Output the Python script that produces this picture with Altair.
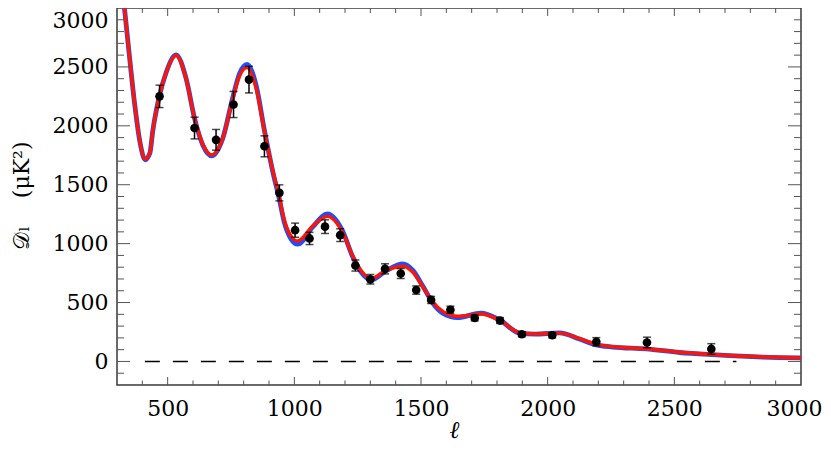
import altair as alt
import pandas as pd

# ---- observed band powers (multipole, D_l, 1-sigma error) ----
obs_ell = [468, 606, 691, 760, 821, 882, 941, 1003, 1060, 1121, 1181, 1241, 1300,
           1358, 1420, 1481, 1540, 1616, 1712, 1812, 1898, 2018, 2192, 2392, 2646]
obs_D = [2250, 1981, 1881, 2181, 2392, 1826, 1431, 1114, 1044, 1144, 1072, 814, 697,
         786, 746, 606, 522, 439, 369, 347, 231, 222, 167, 161, 106]
obs_err = [95, 92, 88, 111, 113, 89, 68, 60, 52, 58, 54, 47, 40,
           43, 42, 35, 30, 30, 25, 25, 22, 22, 35, 45, 45]

# ---- model curves ----
model_ell = [320, 329, 349, 370, 390, 411, 430, 441, 467, 494, 533, 573, 606, 639, 674,
             718, 757, 784, 813, 850, 882, 915, 940, 960, 987, 1013, 1072, 1131, 1191,
             1230, 1263, 1303, 1362, 1428, 1467, 1507, 1545, 1586, 1644, 1737, 1810,
             1889, 1950, 2047, 2126, 2192, 2257, 2389, 2521, 2580, 2718, 2850, 3000]
red_D = [3200, 3008, 2592, 2180, 1870, 1717, 1770, 1953, 2250, 2453, 2597, 2397, 2064, 1842, 1753,
         1897, 2231, 2425, 2494, 2314, 1950, 1619, 1400, 1203, 1064, 1022, 1147, 1231, 1092,
         897, 772, 703, 772, 808, 758, 633, 508, 425, 383, 403, 350,
         244, 234, 240, 194, 145, 125, 108, 78, 69, 50, 38, 30]
blue_D = [3200, 3008, 2592, 2180, 1870, 1712, 1770, 1953, 2250, 2453, 2602, 2400, 2064, 1835, 1745,
          1897, 2240, 2445, 2522, 2335, 1960, 1610, 1385, 1185, 1040, 995, 1140, 1253, 1105,
          890, 760, 692, 770, 828, 775, 640, 500, 410, 372, 410, 352,
          240, 232, 242, 190, 140, 122, 106, 76, 67, 49, 37, 30]

zero_line_ell = [410, 2745]

x_label_values = [500, 1000, 1500, 2000, 2500, 3000]
y_label_values = [0, 500, 1000, 1500, 2000, 2500, 3000]
x_major_ticks = [500, 1000, 1500, 2000, 2500]
x_minor_ticks = [v for v in range(400, 3000, 100) if v % 500 != 0]
y_major_ticks = [0, 500, 1000, 1500, 2000, 2500]
y_minor_ticks = [v for v in range(-100, 3000, 100) if v % 500 != 0]

W, H = 684, 377
FONT = "DejaVu Serif"

xs = alt.Scale(domain=[300, 3000], nice=False, zero=False)
ys = alt.Scale(domain=[-200, 3000], nice=False, zero=False)

obs = pd.DataFrame({"ell": obs_ell, "D": obs_D, "err": obs_err})
obs["lo"] = obs["D"] - obs["err"]
obs["hi"] = obs["D"] + obs["err"]
red = pd.DataFrame({"ell": model_ell, "D": red_D})
blue = pd.DataFrame({"ell": model_ell, "D": blue_D})
zero = pd.DataFrame({"ell": [zero_line_ell[0]], "ell2": [zero_line_ell[1]], "D": [0]})

NB = "\u00a0"
x_axis = alt.Axis(values=x_label_values, format="d", ticks=False, tickSize=0, domain=False,
                  grid=False, labelFont=FONT, labelFontSize=22, labelColor="black",
                  labelPadding=13, labelFlush=True, labelFlushOffset=21, labelOverlap=False,
                  title="ℓ", titleFont=FONT, titleFontStyle="italic", titleFontWeight="normal",
                  titleFontSize=24, titleColor="black", titleX=337, titleY=45,
                  titleBaseline="middle", titleAlign="center")
y_axis = alt.Axis(values=y_label_values, format="d", ticks=False, tickSize=0, domain=False,
                  grid=False, labelFont=FONT, labelFontSize=22, labelColor="black",
                  labelPadding=9, labelFlush=True, labelFlushOffset=-2, labelOverlap=False,
                  title="𝒟ₗ" + NB * 4 + "(μK²)", titleFont=FONT, titleFontWeight="normal",
                  titleFontSize=22, titleColor="black", titleAngle=270, titleX=-96, titleY=187,
                  titleBaseline="middle", titleAlign="center")


def X(field="ell"):
    return alt.X(f"{field}:Q", scale=xs, axis=x_axis)


def Y(field="D"):
    return alt.Y(f"{field}:Q", scale=ys, axis=y_axis)


zero_layer = alt.Chart(zero).mark_rule(color="black", strokeWidth=1.5, strokeDash=[15, 13]).encode(
    x=X(), x2="ell2:Q", y=Y())

blue_layer = alt.Chart(blue).mark_line(color="#1f4cff", strokeWidth=4.8, interpolate="monotone",
                                       clip=True).encode(x=X(), y=Y())

red_layer = alt.Chart(red).mark_line(color="#ff1500", strokeWidth=3.4, interpolate="monotone",
                                     clip=True).encode(x=X(), y=Y())

err_layer = alt.Chart(obs).transform_calculate(D="datum.lo").mark_rule(
    color="black", strokeWidth=1.5).encode(x=X(), y=Y(), y2="hi:Q")
cap_lo = alt.Chart(obs).transform_calculate(D="datum.lo").mark_tick(
    color="black", thickness=1.5, size=8, orient="horizontal").encode(x=X(), y=Y())
cap_hi = alt.Chart(obs).transform_calculate(D="datum.hi").mark_tick(
    color="black", thickness=1.5, size=8, orient="horizontal").encode(x=X(), y=Y())
pts = alt.Chart(obs).mark_circle(color="black", opacity=1, size=75).encode(x=X(), y=Y())

TICK = "#555555"


def ytick(vals, x0, x1):
    return alt.Chart(pd.DataFrame({"D": vals})).mark_rule(color=TICK, strokeWidth=1).encode(
        y=Y(), x=alt.value(x0), x2=alt.value(x1))


def xtick(vals, y0, y1):
    return alt.Chart(pd.DataFrame({"ell": vals})).mark_rule(color=TICK, strokeWidth=1).encode(
        x=X(), y=alt.value(y0), y2=alt.value(y1))


ticks = [
    ytick(y_major_ticks, 0, 13), ytick(y_minor_ticks, 0, 7),
    ytick(y_major_ticks, W - 13, W), ytick(y_minor_ticks, W - 7, W),
    xtick(x_major_ticks, H, H - 8), xtick(x_minor_ticks, H, H - 4.5),
    xtick(x_major_ticks, 0, 8), xtick(x_minor_ticks, 0, 5),
]

chart = alt.layer(zero_layer, blue_layer, red_layer, err_layer, cap_lo, cap_hi, pts, *ticks).properties(
    width=W, height=H,
    autosize=alt.AutoSizeParams(type="none"),
    padding={"left": 109, "top": 0, "right": 22, "bottom": 60},
).configure_view(stroke="#3a3a3a", strokeWidth=1.5)

chart.save("out.html", embed_options={"renderer": "svg", "actions": False})
